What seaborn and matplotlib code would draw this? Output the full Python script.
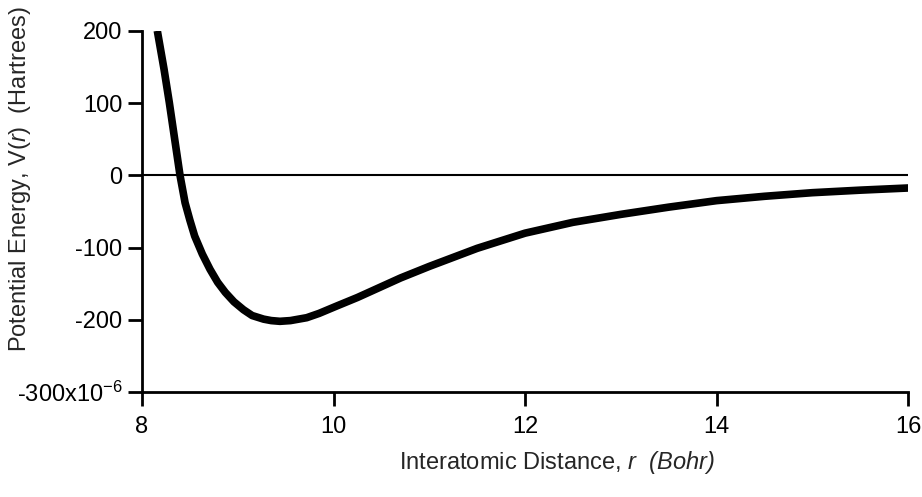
import matplotlib
matplotlib.use("Agg")
import matplotlib.pyplot as plt
import seaborn as sns
import pandas as pd

# values (y in units of 1e-6 Hartree)
r_bohr = [8.16, 8.23, 8.285, 8.337, 8.397, 8.45, 8.50, 8.55, 8.63, 8.71, 8.79, 8.87,
          8.96, 9.06, 9.15, 9.27, 9.35, 9.44, 9.55, 9.72, 9.85, 10.03, 10.25, 10.45,
          10.7, 11.0, 11.5, 12.0, 12.5, 13.0, 13.5, 14.0, 14.5, 15.0, 15.5, 16.0]
v_micro = [200, 147, 101, 54, 0, -38, -62, -84, -109, -130, -148, -162,
           -175, -186, -194, -199, -201, -202, -201, -197, -191, -181, -169, -157,
           -142, -126, -101, -80, -65, -54, -44, -35, -29, -24, -20.5, -17.5]

yticks = [200, 100, 0, -100, -200, -300]
ytick_labels = ["200", "100", "0", "-100", "-200", "-300x10$^{-6}$"]
xticks = [8, 10, 12, 14, 16]

data = pd.DataFrame({"r": r_bohr, "V": v_micro})

sns.set_style("ticks")
plt.rcParams["font.family"] = ["Liberation Sans", "DejaVu Sans"]
plt.rcParams["mathtext.fontset"] = "custom"
plt.rcParams["mathtext.rm"] = "Liberation Sans"
plt.rcParams["mathtext.it"] = "Liberation Sans:italic"
plt.rcParams["mathtext.sf"] = "Liberation Sans:italic"  # italic incl. brackets

fig, ax = plt.subplots(figsize=(9.22, 4.97), dpi=100)
fig.subplots_adjust(left=0.154, right=0.985, top=0.938, bottom=0.211)

ax.axhline(0, color="black", lw=1.5, zorder=1)
sns.lineplot(data=data, x="r", y="V", ax=ax, color="black", lw=5.5,
             solid_joinstyle="round", solid_capstyle="butt", zorder=3)

ax.set_xlim(8, 16)
ax.set_ylim(-300, 200)
ax.set_xticks(xticks)
ax.set_xticklabels([str(t) for t in xticks])
ax.set_yticks(yticks)
ax.set_yticklabels(ytick_labels)

for s in ["top", "right"]:
    ax.spines[s].set_visible(False)
for s in ["left", "bottom"]:
    ax.spines[s].set_linewidth(2)
    ax.spines[s].set_color("black")

ax.tick_params(axis="both", which="major", direction="out", length=10, width=2,
               labelsize=17, colors="black")
ax.tick_params(axis="y", pad=4)
ax.tick_params(axis="x", pad=7)

ax.set_xlabel(r"Interatomic Distance, $r$  $\mathsf{(Bohr)}$", fontsize=17)
ax.set_ylabel("Potential Energy, V($r$)  (Hartrees)", fontsize=17)
ax.xaxis.set_label_coords(0.542, -0.158)
ax.yaxis.set_label_coords(-0.142, 0.59)

fig.savefig("out.png", dpi=100, facecolor="white")
